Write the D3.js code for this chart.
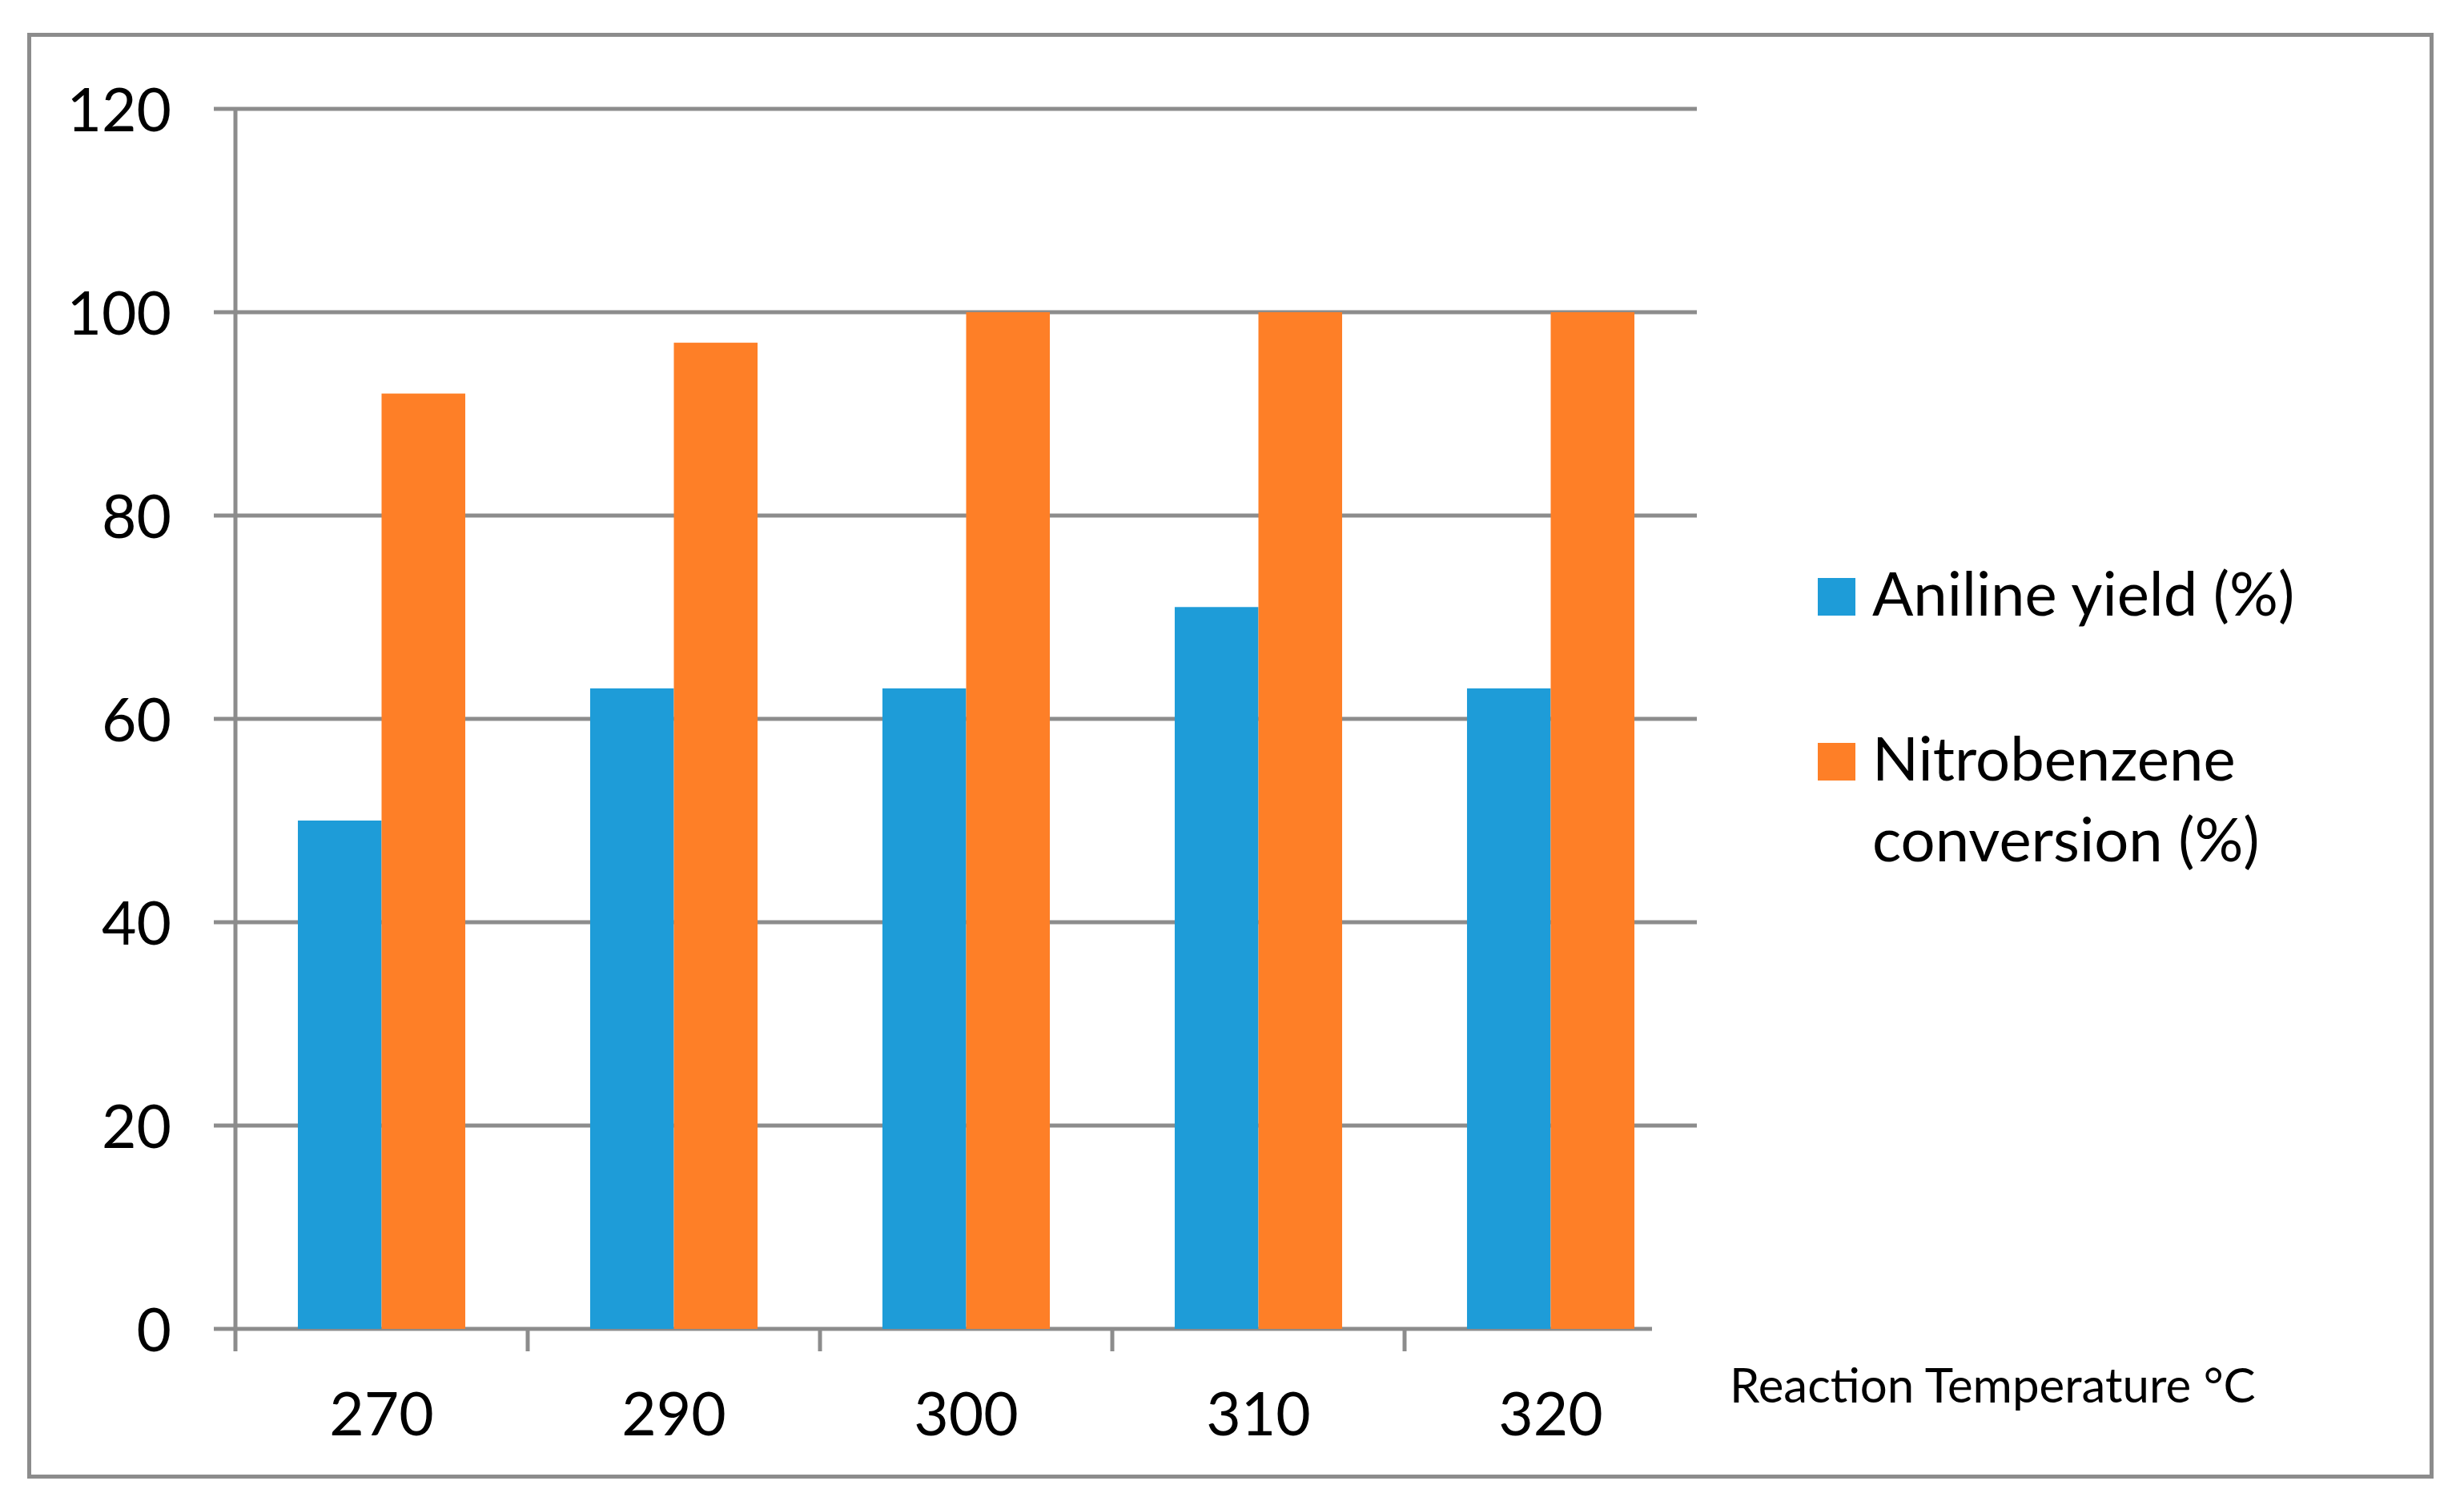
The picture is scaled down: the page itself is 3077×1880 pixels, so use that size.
<!DOCTYPE html>
<html>
<head>
<meta charset="utf-8">
<script src="https://cdn.jsdelivr.net/npm/d3@7"></script>
<style>
  body { margin: 0; background: #fff; }
  text { font-family: Lato, "Open Sans", sans-serif; fill: #000; }
</style>
</head>
<body>
<div id="chart"></div>
<script>
// data
const temperatures = ["270", "290", "300", "310", "320"];
const seriesNames = ["Aniline yield (%)", "Nitrobenzene conversion (%)"];
const anilineYield = [50, 63, 63, 71, 63];
const nitroConversion = [92, 97, 100, 100, 100];
const yTicks = [0, 20, 40, 60, 80, 100, 120];
const colors = ["#1e9cd8", "#fe7f27"];
const gray = "#8c8c8c";

const W = 3077, H = 1880;
const plot = { left: 294, right: 2119, top: 136, bottom: 1660 };

const svg = d3.select("#chart")
  .append("svg")
  .attr("width", W)
  .attr("height", H);

// outer frame
svg.append("rect")
  .attr("x", 36.5).attr("y", 43.5)
  .attr("width", 3000).attr("height", 1801)
  .attr("fill", "none")
  .attr("stroke", gray)
  .attr("stroke-width", 5);

const x = d3.scaleBand()
  .domain(temperatures)
  .range([plot.left, plot.right])
  .padding(0);

const xSub = d3.scaleBand()
  .domain([0, 1])
  .range([0, x.bandwidth()])
  .paddingInner(0)
  .paddingOuter(0.746);

const y = d3.scaleLinear()
  .domain([0, 120])
  .range([plot.bottom, plot.top]);

// gridlines (the 0 line is the category axis, a bit shorter)
svg.append("g")
  .selectAll("line")
  .data(yTicks)
  .enter()
  .append("line")
  .attr("x1", plot.left - 27)
  .attr("x2", d => d === 0 ? 2063 : plot.right)
  .attr("y1", d => y(d))
  .attr("y2", d => y(d))
  .attr("stroke", gray)
  .attr("stroke-width", 5);

// value axis line
svg.append("line")
  .attr("x1", plot.left).attr("x2", plot.left)
  .attr("y1", y(120)).attr("y2", y(0))
  .attr("stroke", gray)
  .attr("stroke-width", 5);

// category ticks
svg.append("g")
  .selectAll("line")
  .data(temperatures)
  .enter()
  .append("line")
  .attr("x1", d => x(d)).attr("x2", d => x(d))
  .attr("y1", y(0)).attr("y2", y(0) + 28)
  .attr("stroke", gray)
  .attr("stroke-width", 5);

// y labels
const yAxis = svg.append("g")
  .attr("transform", `translate(${plot.left - 80},0)`)
  .call(d3.axisLeft(y).tickValues(yTicks).tickSize(0).tickPadding(0));
yAxis.select(".domain").remove();
yAxis.selectAll("text")
  .attr("dy", null)
  .attr("y", 27)
  .style("font-size", "75px")
  .style("font-family", "Lato, sans-serif")
  .attr("fill", "#000");

// x labels
const xAxis = svg.append("g")
  .attr("transform", `translate(0,${y(0)})`)
  .call(d3.axisBottom(x).tickSize(0).tickPadding(0));
xAxis.select(".domain").remove();
xAxis.selectAll("text")
  .attr("dy", null)
  .attr("y", 133)
  .style("font-size", "75px")
  .style("font-family", "Lato, sans-serif")
  .attr("fill", "#000");

// bars
const values = [anilineYield, nitroConversion];
values.forEach((vals, s) => {
  svg.append("g")
    .selectAll("rect")
    .data(temperatures)
    .enter()
    .append("rect")
    .attr("x", (d, i) => x(d) + xSub(s))
    .attr("y", (d, i) => y(vals[i]))
    .attr("width", xSub.bandwidth())
    .attr("height", (d, i) => y(0) - y(vals[i]))
    .attr("fill", colors[s]);
});

// axis title
svg.append("text")
  .attr("x", 2160)
  .attr("y", 1752)
  .style("font-size", "60px")
  .text("Reaction Temperature °C");

// legend
const legendLines = [["Aniline yield (%)"], ["Nitrobenzene", "conversion (%)"]];
const legendY = [769, 975];
legendLines.forEach((lines, i) => {
  svg.append("rect")
    .attr("x", 2270)
    .attr("y", legendY[i] - 47)
    .attr("width", 47)
    .attr("height", 47)
    .attr("fill", colors[i]);
  const t = svg.append("text")
    .attr("x", 2338)
    .attr("y", legendY[i])
    .style("font-size", "76px");
  lines.forEach((ln, j) => {
    t.append("tspan")
      .attr("x", 2338)
      .attr("dy", j === 0 ? 0 : 101)
      .text(ln);
  });
});
</script>
</body>
</html>
